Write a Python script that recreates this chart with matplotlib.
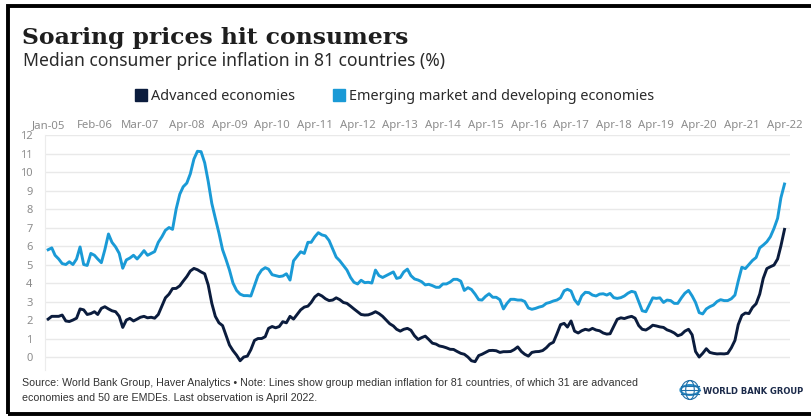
import matplotlib
matplotlib.use("Agg")
import matplotlib.pyplot as plt
from matplotlib.patches import Rectangle, Circle, Ellipse
import pandas as pd

# Median CPI inflation (%), monthly from Jan 2005 to Apr 2022
advanced = [
    2.05, 2.2, 2.2, 2.2, 2.27, 1.95, 1.92, 2.0, 2.1, 2.6, 2.55, 2.3,
    2.35, 2.45, 2.3, 2.63, 2.72, 2.6, 2.5, 2.45, 2.2, 1.6, 2.0, 2.09,
    1.95, 2.05, 2.15, 2.2, 2.12, 2.15, 2.1, 2.3, 2.75, 3.2, 3.4, 3.7,
    3.71, 3.85, 4.1, 4.35, 4.65, 4.79, 4.72, 4.6, 4.5, 3.9, 2.9, 2.2,
    1.85, 1.7, 1.2, 0.65, 0.35, 0.1, -0.2, 0.0, 0.05, 0.4, 0.9, 1.0,
    1.0, 1.1, 1.55, 1.65, 1.58, 1.65, 1.91, 1.85, 2.2, 2.05, 2.3, 2.55,
    2.7, 2.75, 2.95, 3.25, 3.4, 3.3, 3.15, 3.05, 3.08, 3.2, 3.1, 2.95,
    2.9, 2.75, 2.6, 2.45, 2.3, 2.27, 2.28, 2.35, 2.45, 2.35, 2.2, 2.0,
    1.8, 1.68, 1.5, 1.4, 1.5, 1.55, 1.45, 1.15, 0.95, 1.05, 1.13, 0.95,
    0.75, 0.7, 0.6, 0.56, 0.5, 0.42, 0.41, 0.3, 0.2, 0.15, 0.0, -0.2,
    -0.25, 0.08, 0.15, 0.25, 0.35, 0.36, 0.34, 0.25, 0.29, 0.29, 0.3, 0.4,
    0.55, 0.3, 0.15, 0.05, 0.25, 0.29, 0.3, 0.35, 0.5, 0.7, 0.8, 1.25,
    1.75, 1.82, 1.62, 1.95, 1.4, 1.3, 1.42, 1.5, 1.45, 1.55, 1.46, 1.42,
    1.3, 1.24, 1.26, 1.65, 2.04, 2.12, 2.08, 2.15, 2.2, 2.1, 1.7, 1.5,
    1.46, 1.58, 1.72, 1.68, 1.63, 1.6, 1.47, 1.4, 1.3, 1.15, 1.22, 1.4,
    1.5, 1.2, 0.3, 0.0, 0.2, 0.45, 0.25, 0.2, 0.17, 0.18, 0.17, 0.2,
    0.5, 0.9, 1.75, 2.25, 2.38, 2.35, 2.68, 2.88, 3.4, 4.25, 4.78, 4.88,
    4.97, 5.3, 6.0, 6.9,
]

emerging = [
    5.8, 5.9, 5.5, 5.3, 5.05, 5.0, 5.15, 5.0, 5.3, 5.95, 5.0, 4.95,
    5.6, 5.5, 5.3, 5.1, 5.8, 6.65, 6.2, 5.95, 5.6, 4.8, 5.25, 5.35,
    5.5, 5.3, 5.5, 5.75, 5.5, 5.6, 5.7, 6.2, 6.5, 6.85, 7.0, 6.9,
    8.0, 8.8, 9.2, 9.4, 9.9, 10.7, 11.12, 11.1, 10.5, 9.5, 8.3, 7.5,
    6.7, 5.8, 5.3, 4.7, 4.0, 3.6, 3.4, 3.32, 3.32, 3.3, 3.85, 4.4,
    4.7, 4.83, 4.75, 4.45, 4.4, 4.35, 4.38, 4.5, 4.16, 5.2, 5.45, 5.69,
    5.6, 6.2, 6.2, 6.5, 6.72, 6.6, 6.55, 6.3, 5.85, 5.4, 5.2, 4.95,
    4.7, 4.3, 4.04, 3.95, 4.15, 4.02, 4.04, 4.0, 4.7, 4.4, 4.3, 4.4,
    4.5, 4.6, 4.25, 4.3, 4.6, 4.75, 4.4, 4.22, 4.16, 4.07, 3.9, 3.93,
    3.86, 3.77, 3.77, 3.95, 3.95, 4.05, 4.2, 4.2, 4.1, 3.6, 3.75, 3.65,
    3.4, 3.1, 3.08, 3.28, 3.42, 3.23, 3.23, 3.1, 2.6, 2.9, 3.12, 3.12,
    3.08, 3.08, 3.0, 2.65, 2.58, 2.63, 2.7, 2.75, 2.9, 2.95, 3.03, 3.08,
    3.2, 3.58, 3.66, 3.57, 3.1, 2.85, 3.3, 3.5, 3.48, 3.35, 3.3, 3.4,
    3.42, 3.35, 3.44, 3.21, 3.17, 3.21, 3.3, 3.45, 3.55, 3.5, 3.0, 2.5,
    2.45, 2.85, 3.2, 3.17, 3.2, 2.95, 3.08, 3.05, 2.9, 2.9, 3.2, 3.45,
    3.6, 3.3, 2.95, 2.4, 2.33, 2.6, 2.72, 2.81, 3.0, 3.1, 3.05, 3.05,
    3.15, 3.35, 4.1, 4.85, 4.78, 5.0, 5.22, 5.38, 5.9, 6.05, 6.23, 6.5,
    6.95, 7.5, 8.6, 9.35,
]

tick_dates = ["2005-01", "2006-02", "2007-03", "2008-04", "2009-04", "2010-04",
              "2011-04", "2012-04", "2013-04", "2014-04", "2015-04", "2016-04",
              "2017-04", "2018-04", "2019-04", "2020-04", "2021-04", "2022-04"]
tick_labels = ["Jan-05", "Feb-06", "Mar-07", "Apr-08", "Apr-09", "Apr-10",
               "Apr-11", "Apr-12", "Apr-13", "Apr-14", "Apr-15", "Apr-16",
               "Apr-17", "Apr-18", "Apr-19", "Apr-20", "Apr-21", "Apr-22"]
y_ticks = list(range(0, 13))

series_names = ["Advanced economies", "Emerging market and developing economies"]
NAVY = "#0b1c3d"
BLUE = "#1a9ad6"
GRAY = "#8c8c8c"

dates = pd.date_range("2005-01-01", periods=len(advanced), freq="MS")

W, H = 811, 419
fig = plt.figure(figsize=(W / 100, H / 100), dpi=100)
fig.patch.set_facecolor("white")

def fx(px):
    return px / W

def fy(py):
    return 1 - py / H

ax = fig.add_axes([fx(45), fy(370), fx(790) - fx(45), fy(135) - fy(370)])
ax.plot(dates, emerging, color=BLUE, lw=2.1, solid_joinstyle="round", zorder=3)
ax.plot(dates, advanced, color=NAVY, lw=2.1, solid_joinstyle="round", zorder=3)

ax.set_ylim(-0.7, 12)
ax.set_xlim(pd.Timestamp("2004-12-05"), pd.Timestamp("2022-05-18"))
ax.set_yticks(y_ticks)
ax.set_yticklabels([str(v) for v in y_ticks])
ax.grid(axis="y", color="#e9e9e9", lw=1.0, zorder=0)
ax.set_axisbelow(True)

ax.xaxis.tick_top()
ax.set_xticks([pd.Timestamp(d) for d in tick_dates])
ax.set_xticklabels(tick_labels)
ax.tick_params(axis="x", length=0, pad=3, labelsize=8.2, colors=GRAY)
ax.tick_params(axis="y", length=0, pad=9, labelsize=8.0, colors=GRAY)
for lab in ax.get_xticklabels() + ax.get_yticklabels():
    lab.set_family("Noto Sans")

for side in ["top", "right", "bottom"]:
    ax.spines[side].set_visible(False)
ax.spines["left"].set_color("#ececec")
ax.spines["left"].set_linewidth(0.8)

# Titles
fig.text(fx(22), fy(44), "Soaring prices hit consumers", family="DejaVu Serif",
         weight="bold", fontsize=16.9, color="#1e1e1e", va="baseline")
fig.text(fx(23), fy(66), "Median consumer price inflation in 81 countries (%)",
         family="Noto Sans", fontsize=12.6, color="#2a2a2a", va="baseline")

# Legend
for sx, name, col in [(135, series_names[0], NAVY), (333, series_names[1], BLUE)]:
    fig.patches.append(Rectangle((fx(sx), fy(101)), fx(12), fy(89) - fy(101),
                                 transform=fig.transFigure, color=col))
    fig.text(fx(sx + 16), fy(100), name, family="Noto Sans", fontsize=10.4,
             color="#2a2a2a", va="baseline")

# Footer
fig.text(fx(22), fy(386),
         "Source: World Bank Group, Haver Analytics \u2022 Note: Lines show group median inflation for 81 countries, of which 31 are advanced",
         family="Liberation Sans", fontsize=7.7, color="#333333", va="baseline")
fig.text(fx(22), fy(401),
         "economies and 50 are EMDEs. Last observation is April 2022.",
         family="Liberation Sans", fontsize=7.7, color="#333333", va="baseline")

# World Bank Group mark
gx, gy = 690, 390
r = 9.5
globe = Circle((fx(gx), fy(gy)), fx(r), transform=fig.transFigure,
               facecolor="white", edgecolor="#2a8fc9", lw=1.6)
fig.patches.append(globe)
for w in [0.9, 0.45]:
    fig.patches.append(Ellipse((fx(gx), fy(gy)), fx(r) * 2 * w, (fy(0) - fy(2 * r)),
                               transform=fig.transFigure, facecolor="none",
                               edgecolor="#1f6fa8", lw=0.8))
for dy in [-4, 0, 4]:
    half = (r ** 2 - dy ** 2) ** 0.5
    fig.lines.append(plt.Line2D([fx(gx - half), fx(gx + half)], [fy(gy + dy), fy(gy + dy)],
                                transform=fig.transFigure, color="#1f6fa8", lw=0.8))
fig.text(fx(703), fy(393.5), "WORLD BANK GROUP", family="DejaVu Sans", weight="bold",
         fontsize=6.0, color="#1b2a4a", va="baseline")

# Outer frame
fig.patches.append(Rectangle((fx(8), fy(414)), fx(820) - fx(8), fy(6) - fy(414),
                             transform=fig.transFigure, facecolor="none",
                             edgecolor="black", lw=2.8, clip_on=False))

fig.savefig("out.png", dpi=100, facecolor="white")
